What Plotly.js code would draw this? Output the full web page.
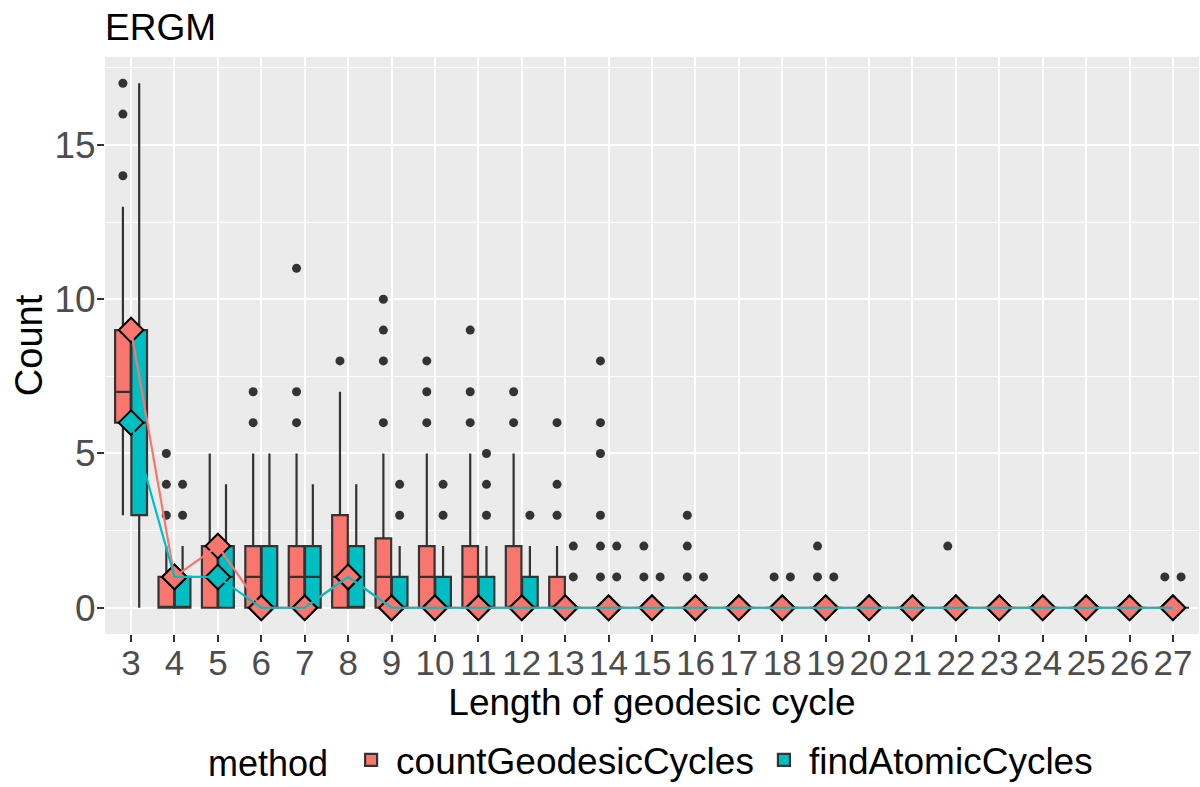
<!DOCTYPE html>
<html>
<head>
<meta charset="utf-8">
<script src="https://cdn.plot.ly/plotly-3.0.1.min.js"></script>
<style>html,body{margin:0;padding:0;background:#fff;}#chart{width:1200px;height:787px;}</style>
</head>
<body>
<div id="chart"></div>
<script>
// Categories (length of geodesic cycle)
const cycleLengths = ["3","4","5","6","7","8","9","10","11","12","13","14","15","16","17","18","19","20","21","22","23","24","25","26","27"];

// countGeodesicCycles box statistics
const cgcQ1     = [6,0,0,0,0,0,0,0,0,0,0,0,0,0,0,0,0,0,0,0,0,0,0,0,0];
const cgcMedian = [7,0,1,1,1,1,1,1,1,0,0,0,0,0,0,0,0,0,0,0,0,0,0,0,0];
const cgcQ3     = [9,1,2,2,2,3,2.25,2,2,2,1,0,0,0,0,0,0,0,0,0,0,0,0,0,0];
const cgcLow    = [3,0,0,0,0,0,0,0,0,0,0,0,0,0,0,0,0,0,0,0,0,0,0,0,0];
const cgcHigh   = [13,2,5,5,5,7,5,5,5,5,2,0,0,0,0,0,0,0,0,0,0,0,0,0,0];
const cgcOutliers = [[14,16,17],[3,4,5],[],[6,7],[6,7,11],[8],[6,8,9,10],[6,7,8],[6,7,9],[6,7],[3,4,6],[1,2,3,5,6,8],[1,2],[1,2,3],[],[1],[1,2],[],[],[2],[],[],[],[],[1]];
const cgcObserved = [9,1,2,0,0,1,0,0,0,0,0,0,0,0,0,0,0,0,0,0,0,0,0,0,0];

// findAtomicCycles box statistics
const facQ1     = [3,0,0,0,0,0,0,0,0,0,0,0,0,0,0,0,0,0,0,0,0,0,0,0,0];
const facMedian = [6,0,1,0,1,0,0,0,0,0,0,0,0,0,0,0,0,0,0,0,0,0,0,0,0];
const facQ3     = [9,1,2,2,2,2,1,1,1,1,0,0,0,0,0,0,0,0,0,0,0,0,0,0,0];
const facLow    = [0,0,0,0,0,0,0,0,0,0,0,0,0,0,0,0,0,0,0,0,0,0,0,0,0];
const facHigh   = [17,2,4,5,4,4,2,2,2,2,0,0,0,0,0,0,0,0,0,0,0,0,0,0,0];
const facOutliers = [[],[3,4],[],[],[],[],[3,4],[3,4],[3,4,5],[3],[1,2],[1,2],[1],[1],[],[1],[1],[],[],[],[],[],[],[],[1]];
const facObserved = [6,1,1,0,0,1,0,0,0,0,0,0,0,0,0,0,0,0,0,0,0,0,0,0,0];

const methods = ["countGeodesicCycles","findAtomicCycles"];
const colors = ["#F8766D","#00BFC4"];

const idx = cycleLengths.map((_, i) => i);
const dodge = 0.1875;
const FONT = "Liberation Sans, Arial, Helvetica, sans-serif";

function boxTrace(name, color, off, q1, med, q3, lo, hi) {
  return {
    type: "box", name: name, legendgroup: name,
    x: idx.map(i => i + off), q1: q1, median: med, q3: q3,
    lowerfence: lo, upperfence: hi,
    width: 0.36, whiskerwidth: 0, boxpoints: false,
    fillcolor: color, line: {color: "#333333", width: 2.2},
    hoverinfo: "skip"
  };
}
function outlierTrace(name, off, outs) {
  const xs = [], ys = [];
  outs.forEach((vals, i) => vals.forEach(v => { xs.push(i + off); ys.push(v); }));
  return {type: "scatter", mode: "markers", x: xs, y: ys, showlegend: false, legendgroup: name,
          marker: {color: "#333333", size: 9}, hoverinfo: "skip"};
}
function diamondTrace(name, color, obs) {
  return {type: "scatter", mode: "markers", x: idx, y: obs, showlegend: false, legendgroup: name,
          marker: {symbol: "diamond", size: 19, color: color, line: {color: "#000000", width: 2}}, hoverinfo: "skip"};
}
function lineTrace(name, color, obs) {
  return {type: "scatter", mode: "lines", x: idx, y: obs, showlegend: false, legendgroup: name,
          line: {color: color, width: 2.2}, hoverinfo: "skip"};
}

const data = [
  boxTrace(methods[0], colors[0], -dodge, cgcQ1, cgcMedian, cgcQ3, cgcLow, cgcHigh),
  boxTrace(methods[1], colors[1], dodge, facQ1, facMedian, facQ3, facLow, facHigh),
  outlierTrace(methods[0], -dodge, cgcOutliers),
  outlierTrace(methods[1], dodge, facOutliers),
  diamondTrace(methods[1], colors[1], facObserved),
  diamondTrace(methods[0], colors[0], cgcObserved),
  lineTrace(methods[0], colors[0], cgcObserved),
  lineTrace(methods[1], colors[1], facObserved)
];

const layout = {
  width: 1200, height: 787,
  paper_bgcolor: "#FFFFFF", plot_bgcolor: "#EBEBEB",
  margin: {l: 105, r: 1, t: 57, b: 153},
  font: {family: FONT, color: "#000000"},
  boxmode: "overlay",
  title: {text: "ERGM", font: {family: FONT, size: 37, color: "#000000"},
          xref: "paper", x: 0, xanchor: "left", yref: "container", y: 0.966, yanchor: "middle"},
  xaxis: {
    range: [-0.6, 24.6], tickmode: "array", tickvals: idx, ticktext: cycleLengths,
    ticks: "outside", ticklen: 7, tickwidth: 2, tickcolor: "#333333", ticklabelstandoff: -9,
    showgrid: true, gridcolor: "#FFFFFF", gridwidth: 2, zeroline: false, showline: false,
    tickfont: {family: FONT, size: 35, color: "#4D4D4D"},
    title: {text: "Length of geodesic cycle", font: {family: FONT, size: 37, color: "#000000"}, standoff: 0}
  },
  yaxis: {
    range: [-0.85, 17.85], tickmode: "array", tickvals: [0,5,10,15], ticktext: ["0","5","10","15"],
    ticks: "outside", ticklen: 7, tickwidth: 2, tickcolor: "#333333", ticklabelstandoff: -6,
    showgrid: true, gridcolor: "#FFFFFF", gridwidth: 2, zeroline: false, showline: false,
    minor: {tickmode: "array", tickvals: [2.5,7.5,12.5,17.5], showgrid: true, gridcolor: "#FFFFFF", gridwidth: 1, ticks: ""},
    tickfont: {family: FONT, size: 37, color: "#4D4D4D"},
    title: {text: "Count", font: {family: FONT, size: 38, color: "#000000"}, standoff: 0}
  },
  showlegend: true,
  legend: {
    orientation: "h", x: 0.5, xanchor: "center", yref: "container", y: 0.034, yanchor: "middle",
    font: {family: FONT, size: 37, color: "#000000"},
    title: {text: "method ", side: "left", font: {family: FONT, size: 36, color: "#000000"}},
    itemwidth: 40,
    bgcolor: "rgba(0,0,0,0)"
  }
};

Plotly.newPlot("chart", data, layout, {displayModeBar: false, staticPlot: true});
</script>
</body>
</html>
